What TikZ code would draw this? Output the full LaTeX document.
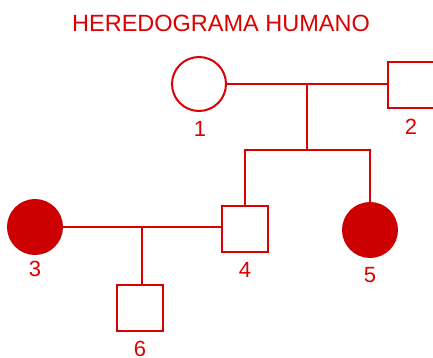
\documentclass[tikz,border=0pt]{standalone}
\usepackage{fontspec}
\setmainfont{Liberation Sans}
\definecolor{pedline}{RGB}{220,0,0}
\definecolor{pedfill}{RGB}{204,0,0}
\begin{document}
\begin{tikzpicture}[x=1pt,y=-1pt,
  line width=2pt,
  female/.style={circle,draw=pedline,line width=2pt,minimum size=54pt,inner sep=0pt},
  affected/.style={female,fill=pedfill,draw=pedfill},
  male/.style={rectangle,draw=pedline,line width=2pt,minimum size=46pt,inner sep=0pt},
  num/.style={text=pedline,font=\fontsize{22}{22}\selectfont,inner sep=0pt},
  link/.style={draw=pedline,line width=2pt}]
\useasboundingbox (0,0) rectangle (433,358);
% title
\node[text=pedline,font=\fontsize{23.5}{24}\selectfont,inner sep=0pt] (title) at (221,23) {HEREDOGRAMA HUMANO};
% first generation
\node[female] (p1) at (199,84) {};
\node[male] (p2) at (411,85.5) {};
% second generation
\node[affected] (p3) at (35,227) {};
\node[male] (p4) at (245,229) {};
\node[affected] (p5) at (370,230) {};
% third generation
\node[male] (p6) at (139.5,308) {};
% labels
\node[num] (l1) at (200,128.5) {1};
\node[num] (l2) at (411,127) {2};
\node[num] (l3) at (35,269) {3};
\node[num] (l4) at (245,270) {4};
\node[num] (l5) at (370,275) {5};
\node[num] (l6) at (140,348.5) {6};
% connectors
\coordinate (m12) at (307,84);
\coordinate (s12) at (307,150);
\coordinate (s4) at (245,150);
\coordinate (s5) at (370,150);
\coordinate (m34) at (142,227);
\draw[link] (p1.east) -- (p1.east -| p2.west);
\draw[link] (m12) -- (s12);
\draw[link] (p4.north) -- (s4) -- (s5) -- (p5.north);
\draw[link] (p3.east) -- (p3.east -| p4.west);
\draw[link] (m34) -- (m34 |- p6.north);
\end{tikzpicture}
\end{document}
